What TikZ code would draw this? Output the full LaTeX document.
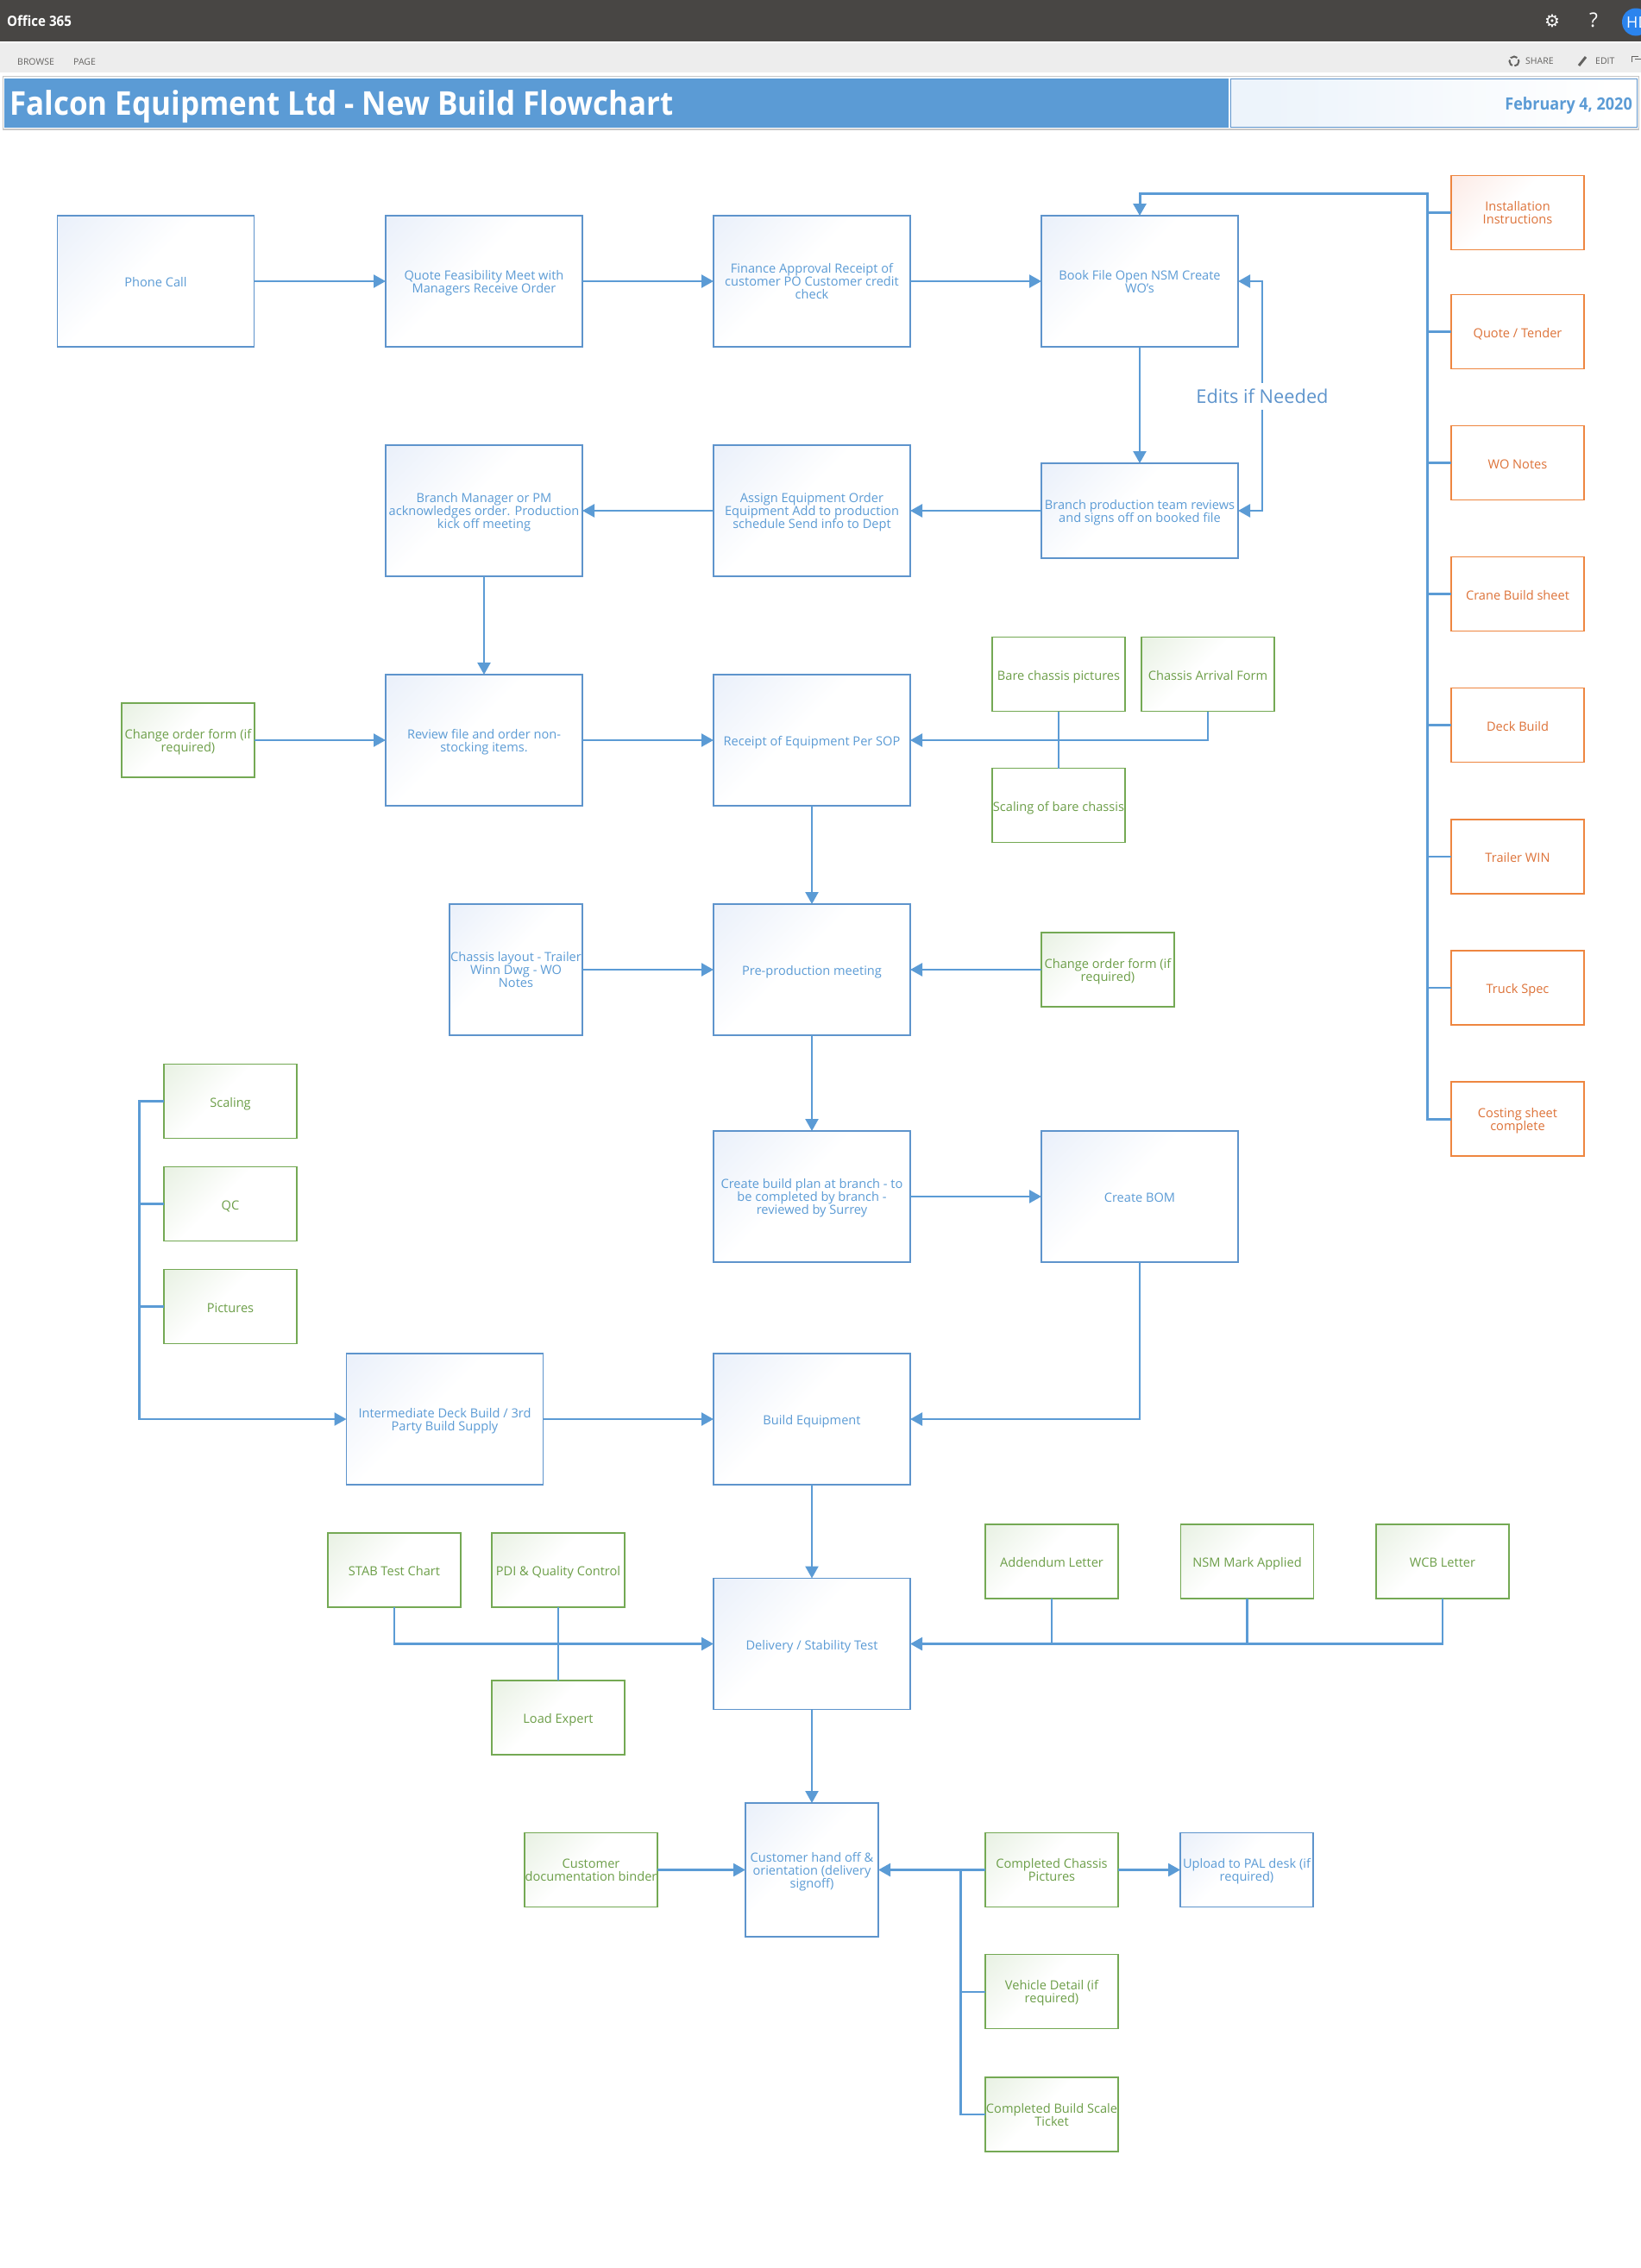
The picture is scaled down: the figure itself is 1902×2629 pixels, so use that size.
\documentclass[tikz,border=0pt]{standalone}
\usepackage{fontspec}
\setmainfont{Open Sans}
\newfontfamily\headfont{Open Sans}[FakeStretch=0.92]
\newfontfamily\iconfont{DejaVu Sans}
\usetikzlibrary{arrows.meta,shadings}

\definecolor{flowblue}{HTML}{5B9BD5}
\definecolor{edgeblue}{HTML}{5E94CC}
\definecolor{edgegreen}{HTML}{74A954}
\definecolor{inkgreen}{HTML}{6C9E48}
\definecolor{edgeorange}{HTML}{EE8640}
\definecolor{inkorange}{HTML}{DD7238}
\definecolor{barink}{HTML}{484644}
\definecolor{tintblue}{HTML}{EAF0FA}
\definecolor{tintdate}{HTML}{EDF4FB}
\definecolor{tintgreen}{HTML}{E8F1E3}
\definecolor{tintorange}{HTML}{FCEBE6}
\definecolor{userblue}{HTML}{2B84EE}

\pgfdeclareverticalshading{fadeblue}{100bp}{color(0bp)=(white); color(55bp)=(white); color(85bp)=(tintblue); color(100bp)=(tintblue)}
\pgfdeclareverticalshading{fadegreen}{100bp}{color(0bp)=(white); color(55bp)=(white); color(85bp)=(tintgreen); color(100bp)=(tintgreen)}
\pgfdeclareverticalshading{fadeorange}{100bp}{color(0bp)=(white); color(55bp)=(white); color(85bp)=(tintorange); color(100bp)=(tintorange)}
\pgfdeclarehorizontalshading{fadedate}{100bp}{color(0bp)=(tintdate); color(30bp)=(tintdate); color(72bp)=(white); color(100bp)=(white)}

\tikzset{
    box/.style={rectangle,align=center,inner sep=0pt,outer sep=0pt,line width=1.5pt,
        font=\fontsize{14.6}{15}\selectfont,text depth=-1.5pt,
        execute at begin node={\rule{0pt}{13.5pt}}},
    bluebox/.style={box,draw=edgeblue,text=flowblue,shading=fadeblue,shading angle=45,
        minimum width=228pt,minimum height=152pt},
    smallblue/.style={bluebox,minimum width=154pt},
    greenplain/.style={box,draw=edgegreen,text=inkgreen,fill=white,
        minimum width=154pt,minimum height=86pt},
    greenbox/.style={greenplain,shading=fadegreen,shading angle=45},
    orangeplain/.style={box,draw=edgeorange,text=inkorange,fill=white,
        minimum width=154pt,minimum height=86pt},
    orangebox/.style={orangeplain,shading=fadeorange,shading angle=45},
    flow/.style={draw=flowblue,line width=2.4pt,-{Triangle[length=14pt,width=15pt]}},
    link/.style={draw=flowblue,line width=2.4pt},
    barlabel/.style={inner sep=0pt,text=barink!85,font=\fontsize{10.5}{11}\selectfont}
}

\begin{document}
\begin{tikzpicture}[x=1pt,y=-1pt]
\useasboundingbox (0,0) rectangle (1902,2629);
\clip (0,0) rectangle (1902,2629);

% top bars
\fill[barink] (0,0) rectangle (1902,48);
\fill[black!7] (0,49.5) rectangle (1902,84);
\node[inner sep=0pt,text=white,anchor=west,font=\headfont\fontsize{16.4}{17}\selectfont\bfseries] (office) at (8,24) {Office 365};
\node[inner sep=0pt,text=white,font=\iconfont\fontsize{20}{20}\selectfont] (gear) at (1799,24) {⚙};
\node[inner sep=0pt,text=white,font=\fontsize{23}{23}\selectfont] (help) at (1847,23) {?};
\node[circle,fill=userblue,minimum size=32pt,inner sep=0pt,outer sep=0pt] (user) at (1896,25.5) {};
\node[inner sep=0pt,text=white,anchor=west,font=\fontsize{18}{18}\selectfont] (userinit) at (1885,26) {HD};
\node[barlabel,anchor=west] (browse) at (20,72) {BROWSE};
\node[barlabel,anchor=west] (page) at (85,72) {PAGE};
\node[barlabel,anchor=west] (share) at (1768,71) {SHARE};
\node[barlabel,anchor=west] (edit) at (1849,71) {EDIT};
\draw[barink!85,line width=2pt,dash pattern=on 8pt off 2.5pt] (1755,71) circle (5.5);
\draw[barink!85,line width=3pt] (1830,76)--(1838,66);
\draw[barink!85,line width=1pt] (1891,72)--(1891,65)--(1899,65) (1895,68)--(1902,68);

% title band
\draw[black!22,line width=1.5pt] (3.5,88.5) rectangle (1899.5,150);
\node[anchor=north west,fill=flowblue,minimum width=1419pt,minimum height=57pt,inner sep=0pt,outer sep=0pt] (titleband) at (5,91) {};
\node[anchor=west,inner sep=0pt,text=white,font=\headfont\fontsize{38}{38}\selectfont\bfseries] (titletext) at (11,124) {Falcon Equipment Ltd - New Build Flowchart};
\node[anchor=north west,draw=edgeblue,line width=1.5pt,shading=fadedate,minimum width=471pt,minimum height=56pt,inner sep=0pt,outer sep=0pt] (dateband) at (1426.5,91.5) {};
\node[anchor=east,inner sep=0pt,text=flowblue,font=\headfont\fontsize{19.6}{20}\selectfont\bfseries] (datetext) at (1892,122) {February 4, 2020};

% main blocks
\node[bluebox] (phone) at (180.5,326) {Phone Call};
\node[bluebox] (quote) at (561,326) {Quote Feasibility Meet with\\Managers Receive Order};
\node[bluebox] (finance) at (941,326) {Finance Approval Receipt of\\customer PO Customer credit\\check};
\node[bluebox] (book) at (1321,326) {Book File Open NSM Create\\WO's};
\node[bluebox,minimum height=110pt] (branchprod) at (1321,592) {Branch production team reviews\\and signs off on booked file};
\node[bluebox] (assign) at (941,592) {Assign Equipment Order\\Equipment Add to production\\schedule Send info to Dept};
\node[bluebox] (branchmgr) at (561,592) {Branch Manager or PM\\acknowledges order. Production\\kick off meeting};
\node[bluebox] (review) at (561,858) {Review file and order non-\\stocking items.};
\node[bluebox] (receipt) at (941,858) {Receipt of Equipment Per SOP};
\node[smallblue] (layout) at (598,1124) {Chassis layout - Trailer\\Winn Dwg - WO\\Notes};
\node[bluebox] (preprod) at (941,1124) {Pre-production meeting};
\node[bluebox] (buildplan) at (941,1387) {Create build plan at branch - to\\be completed by branch -\\reviewed by Surrey};
\node[bluebox] (bom) at (1321,1387) {Create BOM};
\node[bluebox] (intermediate) at (515.5,1645) {Intermediate Deck Build / 3rd\\Party Build Supply};
\node[bluebox] (buildeq) at (941,1645) {Build Equipment};
\node[bluebox] (delivery) at (941,1905.5) {Delivery / Stability Test};
\node[smallblue,minimum height=155pt] (handoff) at (941,2167.5) {Customer hand off \&\\orientation (delivery\\signoff)};
\node[smallblue,minimum height=86pt] (upload) at (1445,2167.5) {Upload to PAL desk (if\\required)};

% orange documents
\node[orangebox] (install) at (1759,246.5) {Installation\\Instructions};
\node[orangeplain] (tender) at (1759,384.5) {Quote / Tender};
\node[orangeplain] (wonotes) at (1759,536.5) {WO Notes};
\node[orangeplain] (crane) at (1759,688.5) {Crane Build sheet};
\node[orangeplain] (deck) at (1759,840.5) {Deck Build};
\node[orangeplain] (trailer) at (1759,993) {Trailer WIN};
\node[orangeplain] (truck) at (1759,1145) {Truck Spec};
\node[orangeplain] (costing) at (1759,1297) {Costing sheet\\complete};

% green documents
\node[greenbox] (changeleft) at (218,858) {Change order form (if\\required)};
\node[greenplain] (bare) at (1227,781.5) {Bare chassis pictures};
\node[greenbox] (arrival) at (1400,781.5) {Chassis Arrival Form};
\node[greenplain] (scalingbare) at (1227,933.5) {Scaling of bare chassis};
\node[greenbox] (changeright) at (1284,1124) {Change order form (if\\required)};
\node[greenbox] (scaling) at (267,1276.5) {Scaling};
\node[greenbox] (qc) at (267,1395.5) {QC};
\node[greenbox] (pictures) at (267,1514.3) {Pictures};
\node[greenbox] (stab) at (457,1820) {STAB Test Chart};
\node[greenbox] (pdi) at (647,1820) {PDI \& Quality Control};
\node[greenbox] (loadexp) at (647,1991) {Load Expert};
\node[greenbox] (addendum) at (1219,1810) {Addendum Letter};
\node[greenbox] (nsm) at (1445.5,1810) {NSM Mark Applied};
\node[greenbox] (wcb) at (1672,1810) {WCB Letter};
\node[greenbox] (custdoc) at (685,2167.5) {Customer\\documentation binder};
\node[greenbox] (chassispics) at (1219,2167.5) {Completed Chassis\\Pictures};
\node[greenbox] (vehicle) at (1219,2308.7) {Vehicle Detail (if\\required)};
\node[greenbox] (ticket) at (1219,2451) {Completed Build Scale\\Ticket};

\coordinate (orangebus) at (1654,224);
\coordinate (editbus) at (1463,459);
\coordinate (leftbus) at (161.6,1276.5);
\coordinate (handbus) at (1113.6,2167.5);

% straight flow
\draw[flow] (phone) -- (quote);
\draw[flow] (quote) -- (finance);
\draw[flow] (finance) -- (book);
\draw[flow] (book) -- (branchprod);
\draw[flow] (branchprod) -- (assign);
\draw[flow] (assign) -- (branchmgr);
\draw[flow] (branchmgr) -- (review);
\draw[flow] (changeleft) -- (review);
\draw[flow] (review) -- (receipt);
\draw[flow] (receipt) -- (preprod);
\draw[flow] (layout) -- (preprod);
\draw[flow] (changeright) -- (preprod);
\draw[flow] (preprod) -- (buildplan);
\draw[flow] (buildplan) -- (bom);
\draw[flow] (bom.south) |- (buildeq.east);
\draw[flow] (intermediate) -- (buildeq);
\draw[flow] (buildeq) -- (delivery);
\draw[flow] (delivery) -- (handoff);
\draw[flow] (custdoc) -- (handoff);
\draw[flow] (chassispics) -- (handoff);
\draw[flow] (chassispics) -- (upload);

% edits loop
\draw[link,{Triangle[length=14pt,width=15pt]}-{Triangle[length=14pt,width=15pt]}] (book.east) -| (editbus) |- (branchprod.east);
\node[fill=white,inner sep=0pt,minimum height=31pt,text=edgeblue,font=\fontsize{21.8}{24}\selectfont] (edits) at (editbus) {Edits if Needed};

% orange bus
\draw[flow,line width=3pt] (costing.west) -| (orangebus) -| (book.north);
\foreach \n in {install,tender,wonotes,crane,deck,trailer,truck}
    \draw[link] (\n.west) -- (\n.west -| orangebus);

% collectors
\draw[flow] (arrival.south) |- (receipt.east);
\draw[link] (bare.south) -- (scalingbare.north);
\draw[flow] (scaling.west) -- (leftbus) |- (intermediate.west);
\foreach \n in {qc,pictures}
    \draw[link] (\n.west) -- (\n.west -| leftbus);
\draw[flow] (stab.south) |- (delivery.west);
\draw[link] (pdi.south) -- (loadexp.north);
\draw[flow] (wcb.south) |- (delivery.east);
\foreach \n in {addendum,nsm}
    \draw[link] (\n.south) -- (\n.south |- delivery.east);
\draw[link] (ticket.west) -| (handbus);
\draw[link] (vehicle.west) -- (vehicle.west -| handbus);
\end{tikzpicture}
\end{document}
